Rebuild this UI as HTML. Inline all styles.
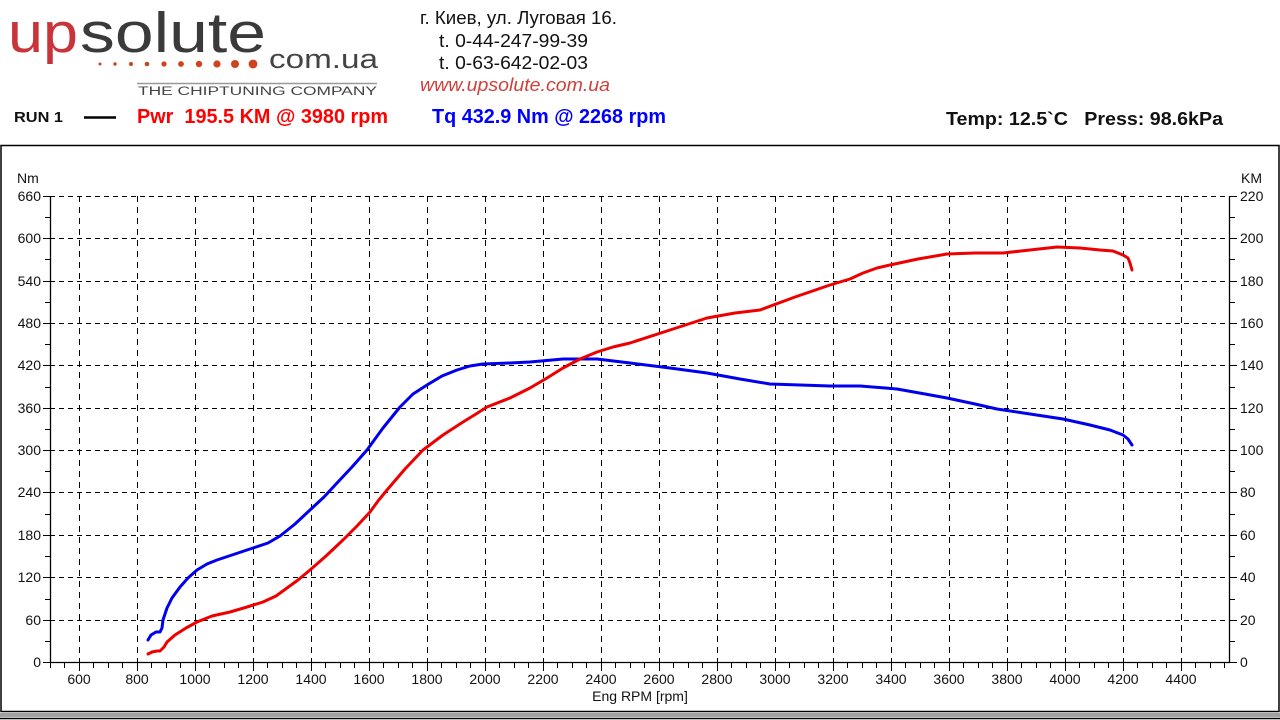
<!DOCTYPE html>
<html><head><meta charset="utf-8"><style>
html,body{margin:0;padding:0;background:#fff;}
svg{display:block;font-family:"Liberation Sans",Arial,sans-serif;}
text{white-space:pre;}
</style></head><body>
<svg width="1280" height="720" viewBox="0 0 1280 720" xmlns="http://www.w3.org/2000/svg" xml:space="preserve">
<rect width="1280" height="720" fill="#fff"/>
<text x="8" y="52" font-size="57" fill="#c9343b" textLength="70" lengthAdjust="spacingAndGlyphs">up</text>
<text x="80" y="52" font-size="57" fill="#3a3a3a" textLength="186" lengthAdjust="spacingAndGlyphs">solute</text>
<text x="269" y="68" font-size="27" fill="#444" textLength="109" lengthAdjust="spacingAndGlyphs">com.ua</text>
<g fill="#d0431c">
<circle cx="100" cy="64" r="1.5"/><circle cx="115" cy="64" r="1.7"/><circle cx="131" cy="64" r="2"/><circle cx="147" cy="64" r="2.3"/><circle cx="164" cy="64" r="2.6"/><circle cx="181" cy="64" r="2.9"/><circle cx="199" cy="64" r="3.2"/><circle cx="217" cy="64" r="3.6"/><circle cx="235" cy="64" r="4"/><circle cx="253" cy="64" r="4.4"/>
</g>
<line x1="137" y1="83.5" x2="377" y2="83.5" stroke="#999" stroke-width="1.5"/>
<text x="138" y="95" font-size="11.5" fill="#444" textLength="239" lengthAdjust="spacingAndGlyphs">THE CHIPTUNING COMPANY</text>
<g font-size="18" fill="#111">
<text x="420" y="24" textLength="197" lengthAdjust="spacingAndGlyphs">г. Киев, ул. Луговая 16.</text>
<text x="439" y="47" textLength="149" lengthAdjust="spacingAndGlyphs">t. 0-44-247-99-39</text>
<text x="439" y="69" textLength="149" lengthAdjust="spacingAndGlyphs">t. 0-63-642-02-03</text>
<text x="420" y="91" fill="#d0403a" font-style="italic" textLength="190" lengthAdjust="spacingAndGlyphs">www.upsolute.com.ua</text>
</g>
<text x="14" y="122" font-size="15" font-weight="bold" fill="#111" textLength="49" lengthAdjust="spacingAndGlyphs">RUN 1</text>
<line x1="84" y1="117.5" x2="116" y2="117.5" stroke="#000" stroke-width="2.5"/>
<text x="137" y="123" font-size="20" font-weight="bold" fill="#f00" textLength="251" lengthAdjust="spacingAndGlyphs">Pwr  195.5 KM @ 3980 rpm</text>
<text x="432" y="123" font-size="20" font-weight="bold" fill="#00f" textLength="234" lengthAdjust="spacingAndGlyphs">Tq 432.9 Nm @ 2268 rpm</text>
<text x="946" y="125" font-size="18" font-weight="bold" fill="#111" textLength="277" lengthAdjust="spacingAndGlyphs">Temp: 12.5`C   Press: 98.6kPa</text>
<rect x="1" y="145.5" width="1278" height="566" fill="none" stroke="#000" stroke-width="1.5"/>
<rect x="0" y="713" width="1280" height="4" fill="#a0a0a0"/>
<line x1="0" y1="718.5" x2="1280" y2="718.5" stroke="#000" stroke-width="1.5"/>
<g stroke="#000" stroke-width="1" stroke-dasharray="5,4">
<line x1="50" y1="196.5" x2="1230" y2="196.5"/>
<line x1="50" y1="238.5" x2="1230" y2="238.5"/>
<line x1="50" y1="281.5" x2="1230" y2="281.5"/>
<line x1="50" y1="323.5" x2="1230" y2="323.5"/>
<line x1="50" y1="365.5" x2="1230" y2="365.5"/>
<line x1="50" y1="408.5" x2="1230" y2="408.5"/>
<line x1="50" y1="450.5" x2="1230" y2="450.5"/>
<line x1="50" y1="492.5" x2="1230" y2="492.5"/>
<line x1="50" y1="535.5" x2="1230" y2="535.5"/>
<line x1="50" y1="577.5" x2="1230" y2="577.5"/>
<line x1="50" y1="620.5" x2="1230" y2="620.5"/>
</g>
<g stroke="#000" stroke-width="1" stroke-dasharray="6,5">
<line x1="79.5" y1="196" x2="79.5" y2="662"/><line x1="137.5" y1="196" x2="137.5" y2="662"/><line x1="195.5" y1="196" x2="195.5" y2="662"/><line x1="253.5" y1="196" x2="253.5" y2="662"/><line x1="311.5" y1="196" x2="311.5" y2="662"/><line x1="369.5" y1="196" x2="369.5" y2="662"/><line x1="427.5" y1="196" x2="427.5" y2="662"/><line x1="485.5" y1="196" x2="485.5" y2="662"/><line x1="543.5" y1="196" x2="543.5" y2="662"/><line x1="601.5" y1="196" x2="601.5" y2="662"/><line x1="659.5" y1="196" x2="659.5" y2="662"/><line x1="717.5" y1="196" x2="717.5" y2="662"/><line x1="775.5" y1="196" x2="775.5" y2="662"/><line x1="833.5" y1="196" x2="833.5" y2="662"/><line x1="891.5" y1="196" x2="891.5" y2="662"/><line x1="949.5" y1="196" x2="949.5" y2="662"/><line x1="1007.5" y1="196" x2="1007.5" y2="662"/><line x1="1065.5" y1="196" x2="1065.5" y2="662"/><line x1="1123.5" y1="196" x2="1123.5" y2="662"/><line x1="1181.5" y1="196" x2="1181.5" y2="662"/>
</g>
<g stroke="#000" stroke-width="1.3" fill="none">
<line x1="50.5" y1="196" x2="50.5" y2="663"/>
<line x1="1229.5" y1="196" x2="1229.5" y2="663"/>
<line x1="50" y1="662.5" x2="1230" y2="662.5"/>
</g>
<g stroke="#000" stroke-width="1">
<path d="M43 196.5h7M43 238.5h7M43 281.5h7M43 323.5h7M43 365.5h7M43 408.5h7M43 450.5h7M43 492.5h7M43 535.5h7M43 577.5h7M43 620.5h7M43 662.5h7"/>
<path d="M45 217.5h5M45 259.5h5M45 302.5h5M45 344.5h5M45 387.5h5M45 429.5h5M45 471.5h5M45 514.5h5M45 556.5h5M45 599.5h5M45 641.5h5"/>
<path d="M1230 196.5h7M1230 238.5h7M1230 281.5h7M1230 323.5h7M1230 365.5h7M1230 408.5h7M1230 450.5h7M1230 492.5h7M1230 535.5h7M1230 577.5h7M1230 620.5h7M1230 662.5h7"/>
<path d="M1230 217.5h5M1230 259.5h5M1230 302.5h5M1230 344.5h5M1230 387.5h5M1230 429.5h5M1230 471.5h5M1230 514.5h5M1230 556.5h5M1230 599.5h5M1230 641.5h5"/>
</g>
<g stroke="#000" stroke-width="1">
<path d="M50.5 662v6M64.5 662v6M93.5 662v6M108.5 662v6M122.5 662v6M151.5 662v6M166.5 662v6M180.5 662v6M209.5 662v6M224.5 662v6M238.5 662v6M267.5 662v6M282.5 662v6M296.5 662v6M325.5 662v6M340.5 662v6M354.5 662v6M383.5 662v6M398.5 662v6M412.5 662v6M441.5 662v6M456.5 662v6M470.5 662v6M499.5 662v6M514.5 662v6M528.5 662v6M557.5 662v6M572.5 662v6M586.5 662v6M615.5 662v6M630.5 662v6M644.5 662v6M673.5 662v6M688.5 662v6M702.5 662v6M731.5 662v6M746.5 662v6M760.5 662v6M789.5 662v6M804.5 662v6M818.5 662v6M847.5 662v6M862.5 662v6M876.5 662v6M905.5 662v6M920.5 662v6M934.5 662v6M963.5 662v6M978.5 662v6M992.5 662v6M1021.5 662v6M1036.5 662v6M1050.5 662v6M1079.5 662v6M1094.5 662v6M1108.5 662v6M1137.5 662v6M1152.5 662v6M1166.5 662v6M1195.5 662v6M1210.5 662v6M1224.5 662v6"/>
<path d="M79.5 662v9M137.5 662v9M195.5 662v9M253.5 662v9M311.5 662v9M369.5 662v9M427.5 662v9M485.5 662v9M543.5 662v9M601.5 662v9M659.5 662v9M717.5 662v9M775.5 662v9M833.5 662v9M891.5 662v9M949.5 662v9M1007.5 662v9M1065.5 662v9M1123.5 662v9M1181.5 662v9"/>
</g>
<g font-size="14" fill="#111">
<text x="17" y="183">Nm</text>
<text x="1241" y="183">KM</text>
<g text-anchor="end">
<text x="41" y="201">660</text><text x="41" y="243">600</text><text x="41" y="286">540</text><text x="41" y="328">480</text><text x="41" y="370">420</text><text x="41" y="413">360</text><text x="41" y="455">300</text><text x="41" y="497">240</text><text x="41" y="540">180</text><text x="41" y="582">120</text><text x="41" y="625">60</text><text x="41" y="667">0</text>
</g>
<g text-anchor="start">
<text x="1240" y="201">220</text><text x="1240" y="243">200</text><text x="1240" y="286">180</text><text x="1240" y="328">160</text><text x="1240" y="370">140</text><text x="1240" y="413">120</text><text x="1240" y="455">100</text><text x="1240" y="497">80</text><text x="1240" y="540">60</text><text x="1240" y="582">40</text><text x="1240" y="625">20</text><text x="1240" y="667">0</text>
</g>
<g text-anchor="middle">
<text x="79" y="684">600</text><text x="137" y="684">800</text><text x="195" y="684">1000</text><text x="253" y="684">1200</text><text x="311" y="684">1400</text><text x="369" y="684">1600</text><text x="427" y="684">1800</text><text x="485" y="684">2000</text><text x="543" y="684">2200</text><text x="601" y="684">2400</text><text x="659" y="684">2600</text><text x="717" y="684">2800</text><text x="775" y="684">3000</text><text x="833" y="684">3200</text><text x="891" y="684">3400</text><text x="949" y="684">3600</text><text x="1007" y="684">3800</text><text x="1065" y="684">4000</text><text x="1123" y="684">4200</text><text x="1181" y="684">4400</text>
<text x="640" y="701">Eng RPM [rpm]</text>
</g>
</g>
<polyline fill="none" stroke="#0000ee" stroke-width="3" stroke-linejoin="round" stroke-linecap="round"
points="148,640 151,635 156,632 160,632 162,628 163,620 167,608 172,598 180,587 188,578 197,570 207,564 217,560 235,554 253,548 268,543 280,536 295,524 310,510 324,497 337,483 352,467 367,450 383,428 400,407 413,394 427,385 442,376 457,370 470,366 483,364 510,363 530,362 563,359 597,359 630,363 670,368 707,373 740,379 770,384 800,385 830,386 860,386 897,389 925,394 947,398 975,404 997,409 1030,414 1063,419 1090,425 1110,430 1123,435 1128,439 1132,445"/>
<polyline fill="none" stroke="#ee0000" stroke-width="3" stroke-linejoin="round" stroke-linecap="round"
points="148,654 152,652 157,651 160,651 164,647 167,642 175,635 186,628 197,622 212,616 230,612 247,607 263,602 276,596 287,588 298,580 310,570 326,556 343,540 357,526 370,512 378,501 387,490 405,469 423,450 443,435 463,422 476,414 487,407 510,398 530,388 547,378 563,368 580,359 597,352 613,347 630,343 670,330 707,318 735,313 760,310 795,297 830,285 850,279 863,273 877,268 890,265 918,259 947,254 975,253 1003,253 1030,250 1057,247 1080,248 1100,250 1113,251 1123,255 1128,258 1130,263 1132,270"/>
</svg>
</body></html>
